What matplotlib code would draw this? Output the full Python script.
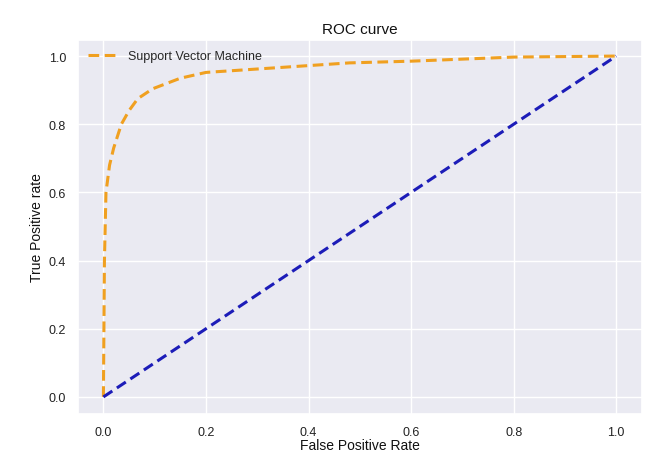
import matplotlib
matplotlib.use("Agg")
import matplotlib.pyplot as plt
import seaborn as sns

sns.set_theme(style="darkgrid")
plt.rcParams['font.family'] = ['Liberation Sans', 'DejaVu Sans']

fpr = [0.0, 0.002, 0.005, 0.012, 0.02, 0.035, 0.05, 0.067, 0.096, 0.15, 0.2, 0.3, 0.4, 0.48, 0.6, 0.8, 1.0]
tpr = [0.0, 0.4, 0.6, 0.68, 0.73, 0.80, 0.84, 0.875, 0.904, 0.935, 0.952, 0.962, 0.972, 0.98, 0.985, 0.997, 1.0]
diag = [0.0, 1.0]
xticks = [0.0, 0.2, 0.4, 0.6, 0.8, 1.0]
yticks = [0.0, 0.2, 0.4, 0.6, 0.8, 1.0]

fig = plt.figure(figsize=(6.59, 4.56), dpi=100)
ax = fig.add_axes([0.118, 0.09, 0.856, 0.82])
ax.plot(fpr, tpr, linestyle=(0, (3.5, 1.8)), color='#f0a020', linewidth=2.2, label='Support Vector Machine')
ax.plot(diag, diag, linestyle=(0, (3.5, 1.8)), color='#1c1cb8', linewidth=2.2)
ax.set_xlim(-0.05, 1.05)
ax.set_ylim(-0.05, 1.047)
ax.set_xticks(xticks)
ax.set_yticks(yticks)
ax.set_xticklabels([f"{v:.1f}" for v in xticks])
ax.set_yticklabels([f"{v:.1f}" for v in yticks])
ax.tick_params(labelsize=9, pad=2.5, labelcolor='#222222')
ax.set_xlabel('False Positive Rate', fontsize=10, labelpad=0.5, color='#111111')
ax.set_ylabel('True Positive rate', fontsize=10, labelpad=3, color='#111111')
ax.set_title('ROC curve', fontsize=11, pad=5, color='#111111')
leg = ax.legend(loc='upper left', fontsize=9, frameon=False, handlelength=2.2,
                borderaxespad=0.4, handletextpad=1.0)
fig.savefig('out.png', dpi=100)
